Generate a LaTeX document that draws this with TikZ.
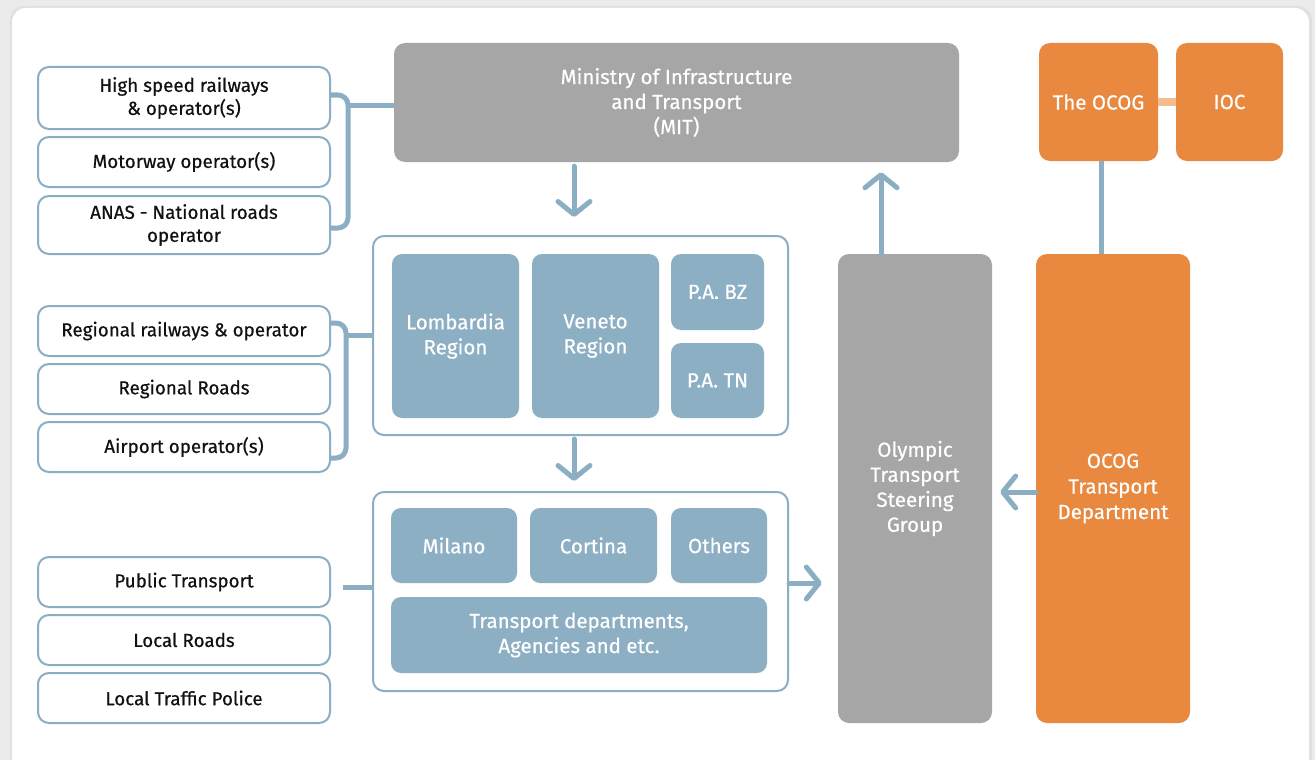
\documentclass[tikz,border=0pt]{standalone}
\usepackage{fontspec}
\setmainfont{Fira Sans}
\newfontfamily\mf{Fira Sans}[FakeBold=0.5]
\usetikzlibrary{arrows.meta}
\definecolor{bl}{HTML}{8CAFC4}
\definecolor{bline}{HTML}{8BAEC3}
\definecolor{gr}{HTML}{A6A6A6}
\definecolor{og}{HTML}{E8893F}
\definecolor{lo}{HTML}{F6BC91}
\definecolor{bg}{HTML}{EBEBEB}
\definecolor{tx}{HTML}{111111}
\begin{document}
\begin{tikzpicture}[x=1pt,y=-1pt,
  lbox/.style={draw=bline,line width=2pt,fill=white,rounded corners=11pt,inner sep=0pt,align=center,text=tx,font=\mf\fontsize{18.8}{23}\selectfont},
  panel/.style={draw=bline,line width=2pt,fill=white,rounded corners=11pt,inner sep=0pt},
  bbox/.style={fill=bl,rounded corners=10pt,inner sep=0pt,align=center,text=white,font=\mf\fontsize{20.5}{25}\selectfont},
  gbox/.style={fill=gr,rounded corners=11pt,inner sep=0pt,align=center,text=white,font=\mf\fontsize{20.5}{25}\selectfont},
  obox/.style={fill=og,rounded corners=11pt,inner sep=0pt,align=center,text=white,font=\mf\fontsize{20.5}{25.5}\selectfont},
  br/.style={draw=bline,line width=5pt,rounded corners=10pt},
  arr/.style={draw=bline,line width=5pt,line cap=round,-{Straight Barb[length=13pt,width=32pt,line cap=round,line join=round]}}
]
\useasboundingbox (0,0) rectangle (1315,760);
\fill[bg] (0,0) rectangle (1315,760);
\fill[black!12,rounded corners=14pt] (10,6) rectangle (1312,775);
\fill[white,rounded corners=14pt] (12,8) rectangle (1309,775);

% left boxes
\node[lbox,minimum width=292pt,minimum height=62pt] (hs) at (184,98) {High speed railways\\\& operator(s)};
\node[lbox,minimum width=292pt,minimum height=50pt] (mw) at (184,162) {Motorway operator(s)};
\node[lbox,minimum width=292pt,minimum height=58pt] (anas) at (184,225) {ANAS - National roads\\operator};
\node[lbox,minimum width=292pt,minimum height=50pt] (rr) at (184,331) {Regional railways \& operator};
\node[lbox,minimum width=292pt,minimum height=50pt] (rroads) at (184,389) {Regional Roads};
\node[lbox,minimum width=292pt,minimum height=50pt] (air) at (184,447) {Airport operator(s)};
\node[lbox,minimum width=292pt,minimum height=50pt] (pt) at (184,582) {Public Transport};
\node[lbox,minimum width=292pt,minimum height=50pt] (lr) at (184,640) {Local Roads};
\node[lbox,minimum width=292pt,minimum height=50pt] (ltp) at (184,698) {Local Traffic Police};

% MIT
\node[gbox,minimum width=565pt,minimum height=119pt] (mit) at (676.5,102.5) {Ministry of Infrastructure\\and Transport\\(MIT)};

% region panel
\node[panel,minimum width=415pt,minimum height=199pt] (reg) at (580.5,335.5) {};
\node[bbox,minimum width=127pt,minimum height=164pt] (lom) at (455.5,336) {Lombardia\\Region};
\node[bbox,minimum width=127pt,minimum height=164pt] (ven) at (595.5,336) {Veneto\\Region};
\node[bbox,minimum width=93pt,minimum height=76pt] (bz) at (717.5,292) {P.A. BZ};
\node[bbox,minimum width=93pt,minimum height=75pt] (tn) at (717.5,380.5) {P.A. TN};

% municipal panel
\node[panel,minimum width=415pt,minimum height=199pt] (mun) at (580.5,591.5) {};
\node[bbox,minimum width=126pt,minimum height=75pt] (mil) at (454,545.5) {Milano};
\node[bbox,minimum width=127pt,minimum height=75pt] (cor) at (593.5,545.5) {Cortina};
\node[bbox,minimum width=96pt,minimum height=75pt] (oth) at (719,545.5) {Others};
\node[bbox,minimum width=376pt,minimum height=76pt] (td) at (579,635) {Transport departments,\\Agencies and etc.};

% right column
\node[gbox,minimum width=154pt,minimum height=469pt] (otsg) at (915,488.5) {Olympic\\Transport\\Steering\\Group};
\node[obox,minimum width=119pt,minimum height=118pt] (ocog) at (1098.5,102) {The OCOG};
\node[obox,minimum width=107pt,minimum height=118pt] (ioc) at (1229.5,102) {IOC};
\node[obox,minimum width=154pt,minimum height=469pt] (otd) at (1113,488.5) {OCOG\\Transport\\Department};

% brackets
\draw[br] ([yshift=3pt]hs.east) -- ++(17,0) |- ([yshift=-3pt]anas.east);
\coordinate (b1) at (347,105);
\draw[br,rounded corners=0pt] (b1) -- (mit.west |- b1);
\draw[br] ([yshift=8pt]rr.east) -- ++(15,0) |- ([yshift=-11pt]air.east);
\coordinate (b2) at (345,335);
\draw[br,rounded corners=0pt] (b2) -- (reg.west |- b2);
\coordinate (b3) at (343,587);
\draw[br,rounded corners=0pt] (b3) -- (mun.west |- b3);

% arrows
\draw[arr] ([yshift=-4pt]mit.south -| 574,0) -- ([yshift=18pt]reg.north -| 574,0);
\draw[arr] ([yshift=-3pt]reg.south -| 574,0) -- ([yshift=10pt]mun.north -| 574,0);
\draw[arr] (mun.east |- 0,583) -- ([xshift=-16pt]otsg.west |- 0,583);
\draw[arr] (otsg.north -| 881,0) -- ([yshift=-10pt]mit.south -| 881,0);
\draw[arr] (otd.west |- 0,492) -- ([xshift=8pt]otsg.east |- 0,492);

% OCOG links
\draw[lo,line width=8pt] (ocog.east) -- (ioc.west);
\draw[bline,line width=5pt] (ocog.south -| 1101,0) -- (otd.north -| 1101,0);
\end{tikzpicture}
\end{document}
